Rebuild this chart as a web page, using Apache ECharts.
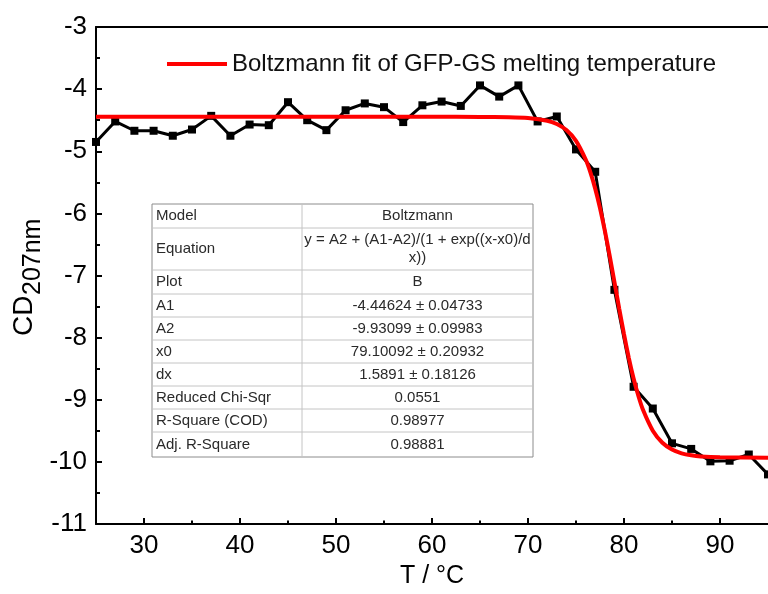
<!DOCTYPE html>
<html>
<head>
<meta charset="utf-8">
<script src="https://cdn.jsdelivr.net/npm/echarts@6/dist/echarts.min.js"></script>
<style>
html,body{margin:0;padding:0;background:#fff;}
#chart{width:768px;height:594px;}
</style>
</head>
<body>
<div id="chart"></div>
<script>
// ---- data ----
var temps = [25,27,29,31,33,35,37,39,41,43,45,47,49,51,53,55,57,59,61,63,65,67,69,71,73,75,77,79,81,83,85,87,89,91,93,95];
var cdValues = [-4.85,-4.52,-4.67,-4.67,-4.75,-4.65,-4.43,-4.75,-4.57,-4.58,-4.21,-4.50,-4.66,-4.34,-4.23,-4.29,-4.53,-4.26,-4.20,-4.27,-3.94,-4.12,-3.94,-4.52,-4.44,-4.97,-5.33,-7.23,-8.79,-9.14,-9.70,-9.79,-9.99,-9.98,-9.88,-10.2];
var fitTemps = [25,30,35,40,45,50,55,60,65,68,70,72,73,74,75,76,76.5,77,77.5,78,78.5,79,79.5,80,80.5,81,81.5,82,83,84,85,86,87,88,90,95];
var fitValues = [-4.446,-4.446,-4.446,-4.446,-4.446,-4.446,-4.446,-4.446,-4.447,-4.451,-4.464,-4.508,-4.562,-4.659,-4.832,-5.129,-5.340,-5.601,-5.913,-6.275,-6.676,-7.102,-7.531,-7.944,-8.324,-8.657,-8.938,-9.169,-9.497,-9.691,-9.800,-9.861,-9.893,-9.911,-9.925,-9.931];
var xMajorTicks = [30,40,50,60,70,80,90];
var xMinorTicks = [35,45,55,65,75,85];
var fitName = 'Boltzmann fit of GFP-GS melting temperature';
var tableNames = ['Model','Equation','Plot','A1','A2','x0','dx','Reduced Chi-Sqr','R-Square (COD)','Adj. R-Square'];
var tableValues = ['Boltzmann','y = A2 + (A1-A2)/(1 + exp((x-x0)/d\nx))','B','-4.44624 \u00b1 0.04733','-9.93099 \u00b1 0.09983','79.10092 \u00b1 0.20932','1.5891 \u00b1 0.18126','0.0551','0.98977','0.98881'];

// ---- chart ----
var FONT = 'Liberation Sans, Arial, sans-serif';
var chart = echarts.init(document.getElementById('chart'), null, {renderer:'canvas'});

function pairs(xs, ys){ return xs.map(function(x,i){ return [x, ys[i]]; }); }

// table graphic
var rowEdges = [204,228,270,294,317,340,363,386,409,432,457];
var tLeft = 152, tRight = 533, tDiv = 302;
var tableEls = [];
tableEls.push({type:'rect', shape:{x:tLeft,y:rowEdges[0],width:tRight-tLeft,height:rowEdges[rowEdges.length-1]-rowEdges[0]},
  style:{fill:'#fff', stroke:'#8c8c8c', lineWidth:1}, z:10});
for (var i=1;i<rowEdges.length-1;i++){
  tableEls.push({type:'line', shape:{x1:tLeft,y1:rowEdges[i],x2:tRight,y2:rowEdges[i]}, style:{stroke:'#c4c4c4', lineWidth:1}, z:11});
}
tableEls.push({type:'line', shape:{x1:tDiv,y1:rowEdges[0],x2:tDiv,y2:rowEdges[rowEdges.length-1]}, style:{stroke:'#c4c4c4', lineWidth:1}, z:11});
for (var r=0;r<tableNames.length;r++){
  var cy = (rowEdges[r]+rowEdges[r+1])/2;
  tableEls.push({type:'text', x:156, y:cy, style:{text:tableNames[r], fill:'#2a2a2a', font:'15px '+FONT, textAlign:'left', textVerticalAlign:'middle'}, z:12});
  tableEls.push({type:'text', x:(tDiv+tRight)/2, y:cy, style:{text:tableValues[r], fill:'#2a2a2a', font:'15px '+FONT, textAlign:'center', textVerticalAlign:'middle', lineHeight:18}, z:12});
}

var option = {
  animation:false,
  backgroundColor:'#fff',
  grid:{left:96, top:27, right:-6, bottom:60, containLabel:false},
  legend:{
    data:[fitName], left:162, top:47, icon:'rect', itemWidth:60, itemHeight:4,
    textStyle:{fontSize:24, fontFamily:FONT, color:'#111'}
  },
  xAxis:[
    {type:'value', min:25, max:95, position:'bottom',
     name:'T / \u00b0C', nameLocation:'middle', nameGap:31,
     nameTextStyle:{fontSize:25, fontFamily:FONT, color:'#000'},
     axisLine:{show:true, lineStyle:{color:'#000', width:2}},
     axisTick:{show:true, inside:true, length:6, customValues:xMajorTicks, lineStyle:{color:'#000', width:2}},
     axisLabel:{show:true, customValues:xMajorTicks, fontSize:26, fontFamily:FONT, color:'#000', margin:9},
     splitLine:{show:false}},
    {type:'value', min:25, max:95, position:'bottom',
     axisLine:{show:false},
     axisTick:{show:true, inside:true, length:3.5, customValues:xMinorTicks, lineStyle:{color:'#000', width:2}},
     axisLabel:{show:false}, splitLine:{show:false}},
    {type:'value', min:25, max:95, position:'top',
     axisLine:{show:true, lineStyle:{color:'#000', width:2}},
     axisTick:{show:false}, axisLabel:{show:false}, splitLine:{show:false}}
  ],
  yAxis:{type:'value', min:-11, max:-3, interval:1, position:'left',
    axisLine:{show:true, lineStyle:{color:'#000', width:2}},
    axisTick:{show:true, inside:true, length:6, lineStyle:{color:'#000', width:2}},
    minorTick:{show:true, splitNumber:2, length:4, lineStyle:{color:'#000', width:2}},
    axisLabel:{fontSize:26, fontFamily:FONT, color:'#000', margin:9},
    splitLine:{show:false}
  },
  graphic:[
    {type:'group', x:38, y:336, rotation:Math.PI/2, children:[
      {type:'text', x:0, y:0, style:{text:'CD', font:'28px '+FONT, fill:'#000', textAlign:'left', textVerticalAlign:'bottom'}},
      {type:'text', x:41, y:8, style:{text:'207nm', font:'25px '+FONT, fill:'#000', textAlign:'left', textVerticalAlign:'bottom'}}
    ]},
    {type:'group', children:tableEls}
  ],
  series:[
    {type:'line', name:'data', xAxisIndex:0, data:pairs(temps, cdValues),
     symbol:'rect', symbolSize:8, showSymbol:true,
     lineStyle:{color:'#000', width:3}, itemStyle:{color:'#000'}, z:3},
    {type:'line', name:fitName, xAxisIndex:0, data:pairs(fitTemps, fitValues),
     symbol:'none', smooth:0.2,
     lineStyle:{color:'#ff0000', width:4}, itemStyle:{color:'#ff0000'}, z:4}
  ]
};
chart.setOption(option);
</script>
</body>
</html>
